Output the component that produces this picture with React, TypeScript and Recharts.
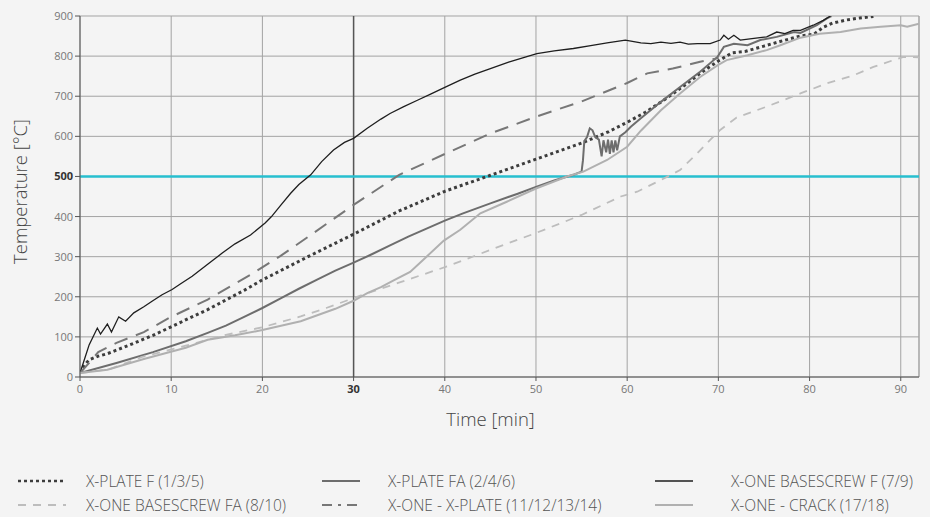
import React from "react";
import {
  CartesianGrid,
  Line,
  LineChart,
  ReferenceLine,
  XAxis,
  YAxis,
} from "recharts";

// [time in min, temperature in °C]
const xPlateF: [number, number][] = [
  [0, 10], [0.5, 30], [1, 43], [2, 52], [3, 58], [4, 67], [6, 85], [8, 104],
  [10, 125], [12, 147], [14, 168], [16, 192], [18, 216], [20, 242], [25, 300],
  [30, 356], [35, 414], [40, 463], [45, 503], [50, 543], [55, 583], [58, 612],
  [60, 635], [62, 660], [64, 690], [66, 722], [68, 757], [70, 788], [71.5, 808],
  [73, 812], [75, 825], [77, 838], [79, 850], [80.5, 855], [81.5, 872],
  [82.5, 882], [84, 890], [85.5, 895], [87, 899],
];

const xPlateFA: [number, number][] = [
  [0, 10], [4, 35], [8, 62], [11.6, 89], [14, 110], [16, 128], [18, 150],
  [20, 172], [22, 196], [24, 220], [26, 243], [28, 265], [30, 285], [32, 306],
  [34, 328], [36, 350], [38, 370], [40, 390], [42, 408], [45, 433], [48, 457],
  [50, 474], [52, 490], [54.2, 505], [55, 512], [55.15, 540], [55.3, 588],
  [55.6, 598], [55.9, 620], [56.2, 615], [56.5, 598], [56.9, 592], [57.2, 550],
  [57.4, 590], [57.7, 560], [57.9, 592], [58.1, 556], [58.3, 590], [58.5, 560],
  [58.7, 590], [58.9, 565], [59.2, 600], [59.8, 610], [60.4, 624], [61.5, 645],
  [63.7, 686], [65.8, 723], [68, 761], [69.9, 798], [70.6, 823], [71.7, 831],
  [73.2, 827], [74.6, 840], [76.4, 848], [78.3, 860], [79, 858], [80.8, 877],
  [81.9, 894], [82.4, 900],
];

const baseScrewF: [number, number][] = [
  [0, 10], [0.5, 45], [1, 80], [1.9, 122], [2.25, 107], [3, 132], [3.45, 112],
  [4.25, 150], [5, 139], [5.9, 160], [7, 175], [7.9, 189], [9, 205],
  [10.1, 218], [11, 232], [12.3, 251], [14, 281], [15.6, 309], [17, 332],
  [18.7, 354], [20.3, 384], [21, 400], [22, 428], [23.1, 458], [24, 480],
  [25.3, 504], [26.5, 537], [27.8, 566], [29, 585], [30, 595], [31.5, 620],
  [33, 643], [34, 657], [35.5, 674], [37, 690], [38.5, 706], [40, 722],
  [41.7, 740], [43.3, 755], [45, 769], [47, 785], [49, 799], [50.1, 806],
  [52, 813], [54.1, 819], [56, 826], [57.8, 833], [59.8, 840], [61.5, 833],
  [62.6, 831], [63.7, 835], [64.8, 832], [65.8, 835], [66.7, 830], [67.7, 831],
  [69.1, 831], [70.2, 840], [70.6, 852], [71.1, 842], [71.7, 852], [72.4, 840],
  [73.9, 844], [75.3, 848], [76.4, 860], [77.3, 856], [78.2, 864], [79, 864],
  [80.4, 877], [81.5, 889], [82.3, 900],
];

const baseScrewFA: [number, number][] = [
  [0, 10], [3.2, 19], [6.8, 50], [11.6, 78], [16, 105], [20, 124], [24.2, 151],
  [27, 172], [31.5, 209], [34.8, 234], [40.3, 276], [45, 317], [50, 359],
  [55, 404], [59.3, 450], [61.1, 462], [63.7, 491], [65.8, 516], [67.7, 558],
  [69.1, 591], [70.2, 616], [72, 647], [75.3, 674], [79, 707], [81.9, 732],
  [84.8, 752], [87, 773], [89.2, 790], [90.3, 798], [92, 797],
];

const xOneXPlate: [number, number][] = [
  [0, 10], [1, 35], [2, 62], [4, 85], [7, 112], [10, 150], [14, 193],
  [18.7, 255], [22, 302], [25.3, 354], [30, 429], [35, 504], [40, 556],
  [45, 607], [50, 649], [55, 687], [60, 733], [62.2, 757], [65, 769],
  [68, 786], [70, 795],
];

const xOneCrack: [number, number][] = [
  [0, 10], [3, 18], [7, 45], [11.6, 73], [14, 93], [17, 104], [20, 117],
  [24.2, 139], [28, 170], [30, 190], [31.5, 209], [33, 224], [34.5, 242],
  [36.2, 262], [38, 300], [39.9, 340], [41.7, 367], [43.9, 408], [46.8, 437],
  [50, 470], [53.4, 500], [55.2, 512], [57.8, 541], [60, 574], [61.5, 614],
  [63.7, 665], [65.8, 707], [68, 748], [69.9, 777], [70.9, 790], [73.2, 802],
  [75.3, 815], [76.8, 827], [79, 846], [81.1, 856], [83.4, 860], [85.6, 869],
  [87.8, 873], [90, 877], [90.7, 873], [92, 881],
];

const xTicks = [0, 10, 20, 30, 40, 50, 60, 70, 80, 90];
const yTicks = [0, 100, 200, 300, 400, 500, 600, 700, 800, 900];
const threshold = 500;
const markTime = 30;

const FONT = "'Open Sans', sans-serif";

const toRows = (pts: [number, number][]) => pts.map(([t, v]) => ({ t, v }));

const series = [
  { name: "X-PLATE F (1/3/5)", data: xPlateF, stroke: "#3d3d3d", width: 3, dash: "3 3" },
  { name: "X-PLATE FA (2/4/6)", data: xPlateFA, stroke: "#6d6d6d", width: 2, dash: undefined },
  { name: "X-ONE BASESCREW F (7/9)", data: baseScrewF, stroke: "#1e1e1e", width: 1.3, dash: undefined },
  { name: "X-ONE BASESCREW FA (8/10)", data: baseScrewFA, stroke: "#bdbdbd", width: 1.8, dash: "8 7" },
  { name: "X-ONE - X-PLATE (11/12/13/14)", data: xOneXPlate, stroke: "#777777", width: 2, dash: "14 9" },
  { name: "X-ONE - CRACK (17/18)", data: xOneCrack, stroke: "#b0b0b0", width: 2, dash: undefined },
];

const legendDash = ["3 3", undefined, undefined, "8 7", "10 6 3 6", undefined];

function XTick(props: any) {
  const { x, y, payload } = props;
  const bold = payload.value === markTime;
  return (
    <text x={x} y={y + 10} textAnchor="middle" fontFamily={FONT} fontSize={11}
      fill={bold ? "#333" : "#777"} fontWeight={bold ? 700 : 400}>
      {payload.value}
    </text>
  );
}

function YTick(props: any) {
  const { x, y, payload } = props;
  const bold = payload.value === threshold;
  return (
    <text x={x} y={y + 4} textAnchor="end" fontFamily={FONT} fontSize={11}
      fill={bold ? "#333" : "#777"} fontWeight={bold ? 700 : 400}>
      {payload.value}
    </text>
  );
}

function YTitle(props: any) {
  const { viewBox } = props;
  const cy = viewBox.y + viewBox.height / 2 - 5;
  return (
    <text x={19} y={cy} transform={`rotate(-90, 19, ${cy})`} textAnchor="middle"
      dominantBaseline="central" fontFamily={FONT} fontWeight={300} fontSize={18.5} fill="#444">
      Temperature [°C]
    </text>
  );
}

function XTitle(props: any) {
  const { viewBox } = props;
  const cx = viewBox.x + viewBox.width / 2 - 9;
  return (
    <text x={cx} y={426} textAnchor="middle" fontFamily={FONT} fontWeight={300} fontSize={18.5} fill="#444">
      Time [min]
    </text>
  );
}

function ChartLegend() {
  const cols = [18, 322, 655];
  const textX = [86, 388, 731];
  const rows = [481, 505];
  return (
    <svg width={930} height={517} style={{ position: "absolute", left: 0, top: 0, pointerEvents: "none" }}>
      {series.map((s, i) => {
        const c = i % 3;
        const cy = rows[Math.floor(i / 3)];
        return (
          <g key={s.name}>
            <line x1={cols[c]} x2={cols[c] + (c === 0 ? 48 : 38)} y1={cy} y2={cy} stroke={s.stroke}
              strokeWidth={i === 0 ? 2.5 : Math.max(1.5, s.width)} strokeDasharray={legendDash[i]} />
            <text x={textX[c]} y={cy} dominantBaseline="central"
              fontFamily={FONT} fontWeight={300} fontSize={15.5} fill="#555">
              {s.name}
            </text>
          </g>
        );
      })}
    </svg>
  );
}

export default function App() {
  return (
    <div style={{ position: "absolute", left: 0, top: 0, width: 930, height: 517, background: "#f4f4f4", overflow: "hidden" }}>
      <LineChart width={930} height={517} margin={{ top: 16, right: 11, left: 20, bottom: 110 }}>
        <CartesianGrid stroke="#a3a3a3" strokeWidth={1} />
        <XAxis
          type="number"
          dataKey="t"
          domain={[0, 92]}
          ticks={xTicks}
          allowDataOverflow
          height={30}
          stroke="#555"
          tickSize={4}
          tick={<XTick />}
          label={<XTitle />}
        />
        <YAxis
          type="number"
          domain={[0, 900]}
          ticks={yTicks}
          allowDataOverflow
          width={60}
          stroke="#555"
          tickSize={5}
          tick={<YTick />}
          label={<YTitle />}
        />
        <ReferenceLine x={92} stroke="#a3a3a3" />
        <ReferenceLine x={markTime} stroke="#555" strokeWidth={1.5} />
        <ReferenceLine y={threshold} stroke="#27bfcf" strokeWidth={2.5} />
        {series.map((s) => (
          <Line
            key={s.name}
            data={toRows(s.data)}
            dataKey="v"
            type="linear"
            stroke={s.stroke}
            strokeWidth={s.width}
            strokeDasharray={s.dash}
            dot={false}
            activeDot={false}
            isAnimationActive={false}
          />
        ))}
      </LineChart>
      <ChartLegend />
    </div>
  );
}
